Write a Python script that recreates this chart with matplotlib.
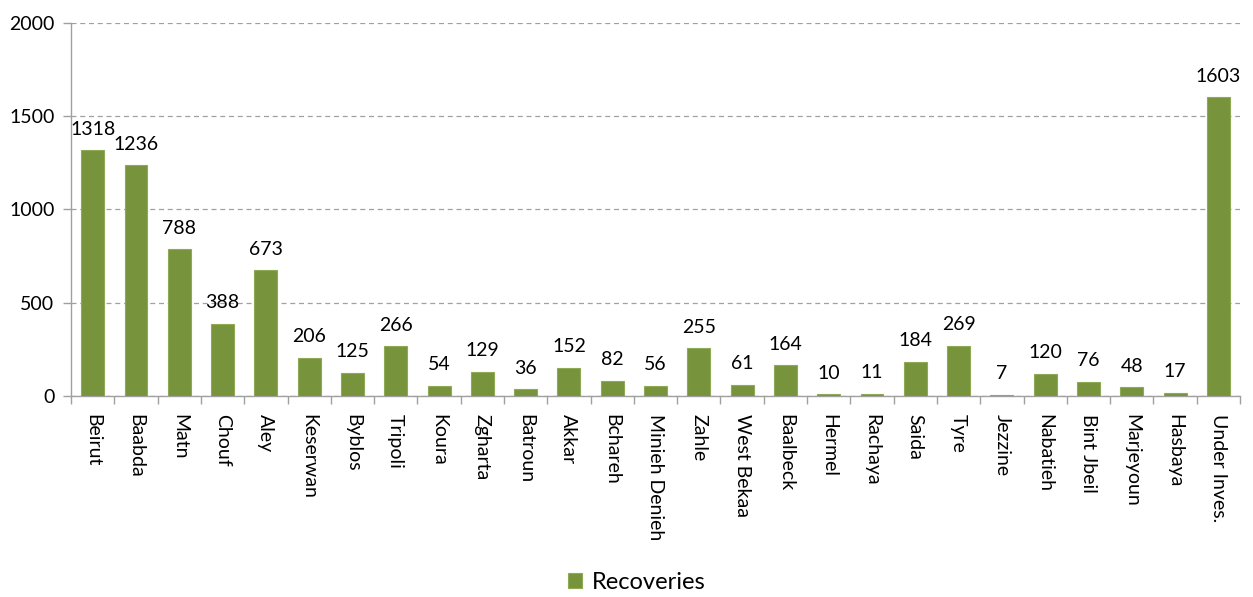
import matplotlib
matplotlib.use("Agg")
import matplotlib.pyplot as plt
import numpy as np

categories = ["Beirut", "Baabda", "Matn", "Chouf", "Aley", "Keserwan", "Byblos", "Tripoli",
              "Koura", "Zgharta", "Batroun", "Akkar", "Bchareh", "Minieh Denieh", "Zahle",
              "West Bekaa", "Baalbeck", "Hermel", "Rachaya", "Saida", "Tyre", "Jezzine",
              "Nabatieh", "Bint Jbeil", "Marjeyoun", "Hasbaya", "Under Inves."]
values = [1318, 1236, 788, 388, 673, 206, 125, 266, 54, 129, 36, 152, 82, 56, 255,
          61, 164, 10, 11, 184, 269, 7, 120, 76, 48, 17, 1603]
yticks = [0, 500, 1000, 1500, 2000]

plt.rcParams['font.family'] = ['Lato', 'DejaVu Sans']
color = "#77933C"

fig = plt.figure(figsize=(12.53, 5.97), dpi=100)
ax = fig.add_axes([0.0567, 0.3367, 0.9329, 0.6248])
n = len(categories)
x = np.arange(n)
bars = ax.bar(x, values, width=0.53, color=color, edgecolor="#8FAA55", linewidth=0.8,
              label="Recoveries", zorder=3)
for xi, v in zip(x, values):
    ax.annotate(str(v), (xi, v), xytext=(0, 9), textcoords="offset points",
                ha="center", va="bottom", fontsize=14, color="#000000")

ax.set_xlim(-0.5, n - 0.5)
ax.set_ylim(0, 2000)
ax.set_yticks(yticks)
ax.set_yticklabels([str(t) for t in yticks], fontsize=14)
ax.yaxis.grid(True, linestyle=(0, (4, 3)), color="#A0A0A0", linewidth=0.9, zorder=0)
ax.set_xticks(x)
ax.set_xticklabels(categories, rotation=270, fontsize=14, va="top", ha="center")
ax.tick_params(axis="x", length=0, pad=13)
ax.set_xticks(np.arange(-0.5, n, 1.0), minor=True)
ax.tick_params(axis="x", which="minor", length=6, color="#A0A0A0", width=1)
ax.tick_params(axis="y", length=6, color="#A0A0A0", width=1, pad=6)
for s in ["top", "right"]:
    ax.spines[s].set_visible(False)
for s in ["left", "bottom"]:
    ax.spines[s].set_color("#A0A0A0")
    ax.spines[s].set_linewidth(1)

fig.legend(handles=[bars], labels=["Recoveries"], loc="center", bbox_to_anchor=(0.508, 0.025),
           frameon=False, fontsize=17, handlelength=0.6, handleheight=0.6, handletextpad=0.4)

fig.savefig("out.png", dpi=100)
